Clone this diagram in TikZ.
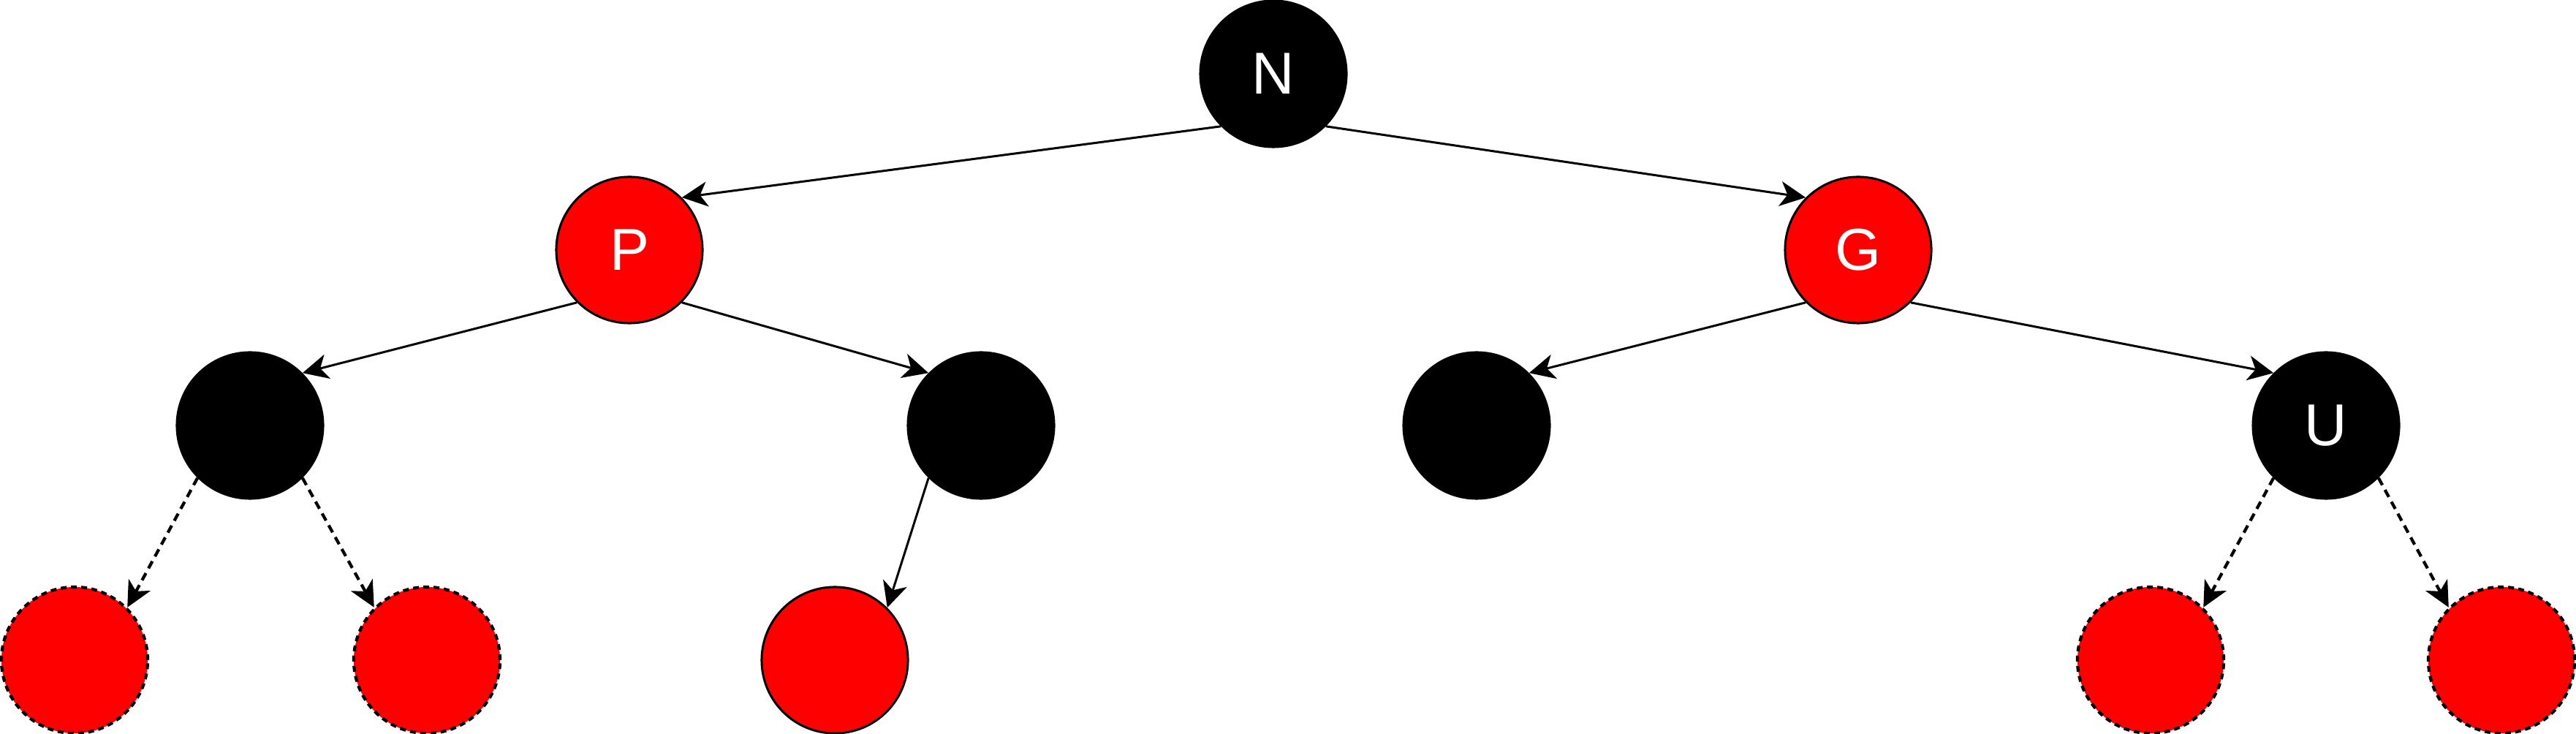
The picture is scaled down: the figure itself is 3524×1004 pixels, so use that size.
\documentclass[tikz,border=0pt]{standalone}
\usepackage{fontspec}
\setmainfont{Liberation Sans}
\usetikzlibrary{arrows.meta}
\definecolor{rbred}{HTML}{FF0000}
\tikzset{
  rbnode/.style={circle, minimum size=2cm, inner sep=0pt, line width=0.03cm, text=white, font=\fontsize{23}{28}\selectfont},
  blacknode/.style={rbnode, fill=black, draw=black},
  rednode/.style={rbnode, fill=rbred, draw=black},
  nilnode/.style={rbnode, fill=rbred, draw=black, line width=0.042cm, dash pattern=on 0.08cm off 0.06cm},
  edge/.style={line width=0.03cm, -{Stealth[length=0.35cm, width=0.34cm, inset=0.1cm]}},
  dashedge/.style={line width=0.042cm, dash pattern=on 0.11cm off 0.075cm, -{Stealth[length=0.35cm, width=0.34cm, inset=0.1cm, line width=0.03cm]}}
}
\begin{document}
\begin{tikzpicture}[x=0.01cm, y=-0.01cm]
\useasboundingbox (0,0) rectangle (3524,1004);
\node[blacknode] (N) at (1742,101) {N};
\node[rednode] (P) at (861,342) {P};
\node[rednode] (G) at (2542,342) {G};
\node[blacknode] (L1) at (342,582) {};
\node[blacknode] (L2) at (1342,582) {};
\node[blacknode] (L3) at (2020,582) {};
\node[blacknode] (U) at (3182,582) {U};
\node[nilnode] (B1) at (102,903) {};
\node[nilnode] (B2) at (584,903) {};
\node[rednode] (B3) at (1142,903) {};
\node[nilnode] (B4) at (2942,903) {};
\node[nilnode] (B5) at (3422,903) {};
\draw[edge] (N.225) -- (P.45);
\draw[edge] (N.315) -- (G.135);
\draw[edge] (P.225) -- (L1.45);
\draw[edge] (P.315) -- (L2.135);
\draw[edge] (G.225) -- (L3.45);
\draw[edge] (G.315) -- (U.135);
\draw[edge] (L2.225) -- (B3.45);
\draw[dashedge] (L1.225) -- (B1.45);
\draw[dashedge] (L1.315) -- (B2.135);
\draw[dashedge] (U.225) -- (B4.45);
\draw[dashedge] (U.315) -- (B5.135);
\end{tikzpicture}
\end{document}
